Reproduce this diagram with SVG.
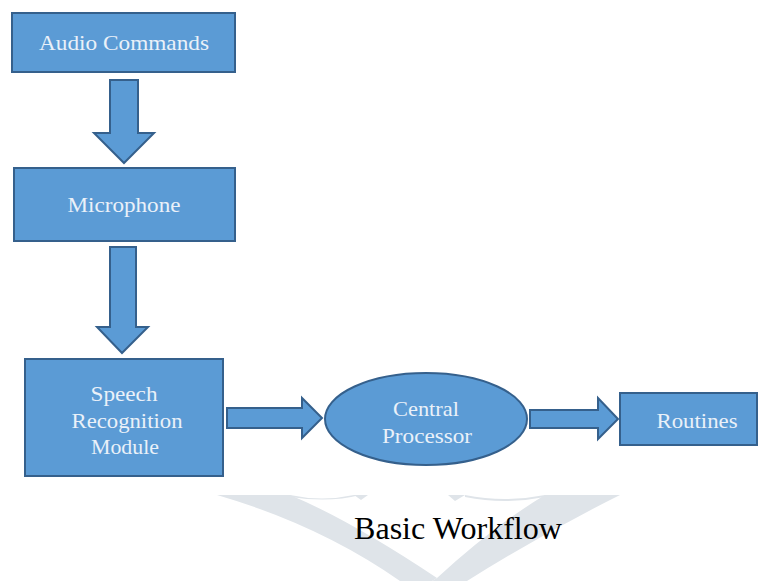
<svg xmlns="http://www.w3.org/2000/svg" width="763" height="581" viewBox="0 0 763 581">
<style>
.box{fill:#5b9bd5;stroke:#35608c;stroke-width:2}
.arr{fill:#5b9bd5;stroke:#35608c;stroke-width:2;stroke-linejoin:miter}
.lbl{font-family:"Liberation Serif","Times New Roman",serif;font-size:21px;fill:#eaf1f9;text-anchor:middle}
.cap{font-family:"Liberation Serif","Times New Roman",serif;font-size:31.5px;fill:#000}
.wm{fill:#dfe4e9}
</style>
<rect width="763" height="581" fill="#fff"/>
<g id="watermark">
<path class="wm" d="M217,495 L290,495 Q350,520 437,578 L432,581 L400,581 Q320,525 217,495 Z"/>
<path class="wm" d="M545,495 L620,495 Q540,535 467,581 L432,581 L437,578 Q495,525 545,495 Z"/>
<path class="wm" d="M290,495 Q322,502 354,495 L360,495 Q330,503 290,497 Z"/>
<path class="wm" d="M354,495 L368,495 L361,500 Z"/>
<path class="wm" d="M448,495 L465,495 L455,501 Z"/>
<path class="wm" d="M465,495 Q505,503 545,495 L545,497 Q505,505 465,497 Z"/>
</g>
<g id="connectors">
<path class="arr" d="M110,80 L138,80 L138,133 L154,133 L124,163 L94,133 L110,133 Z"/>
<path class="arr" d="M110,247 L136,247 L136,327 L148,327 L122,353 L97,327 L110,327 Z"/>
<path class="arr" d="M227,408 L302,408 L302,398 L322,418 L302,438 L302,428 L227,428 Z"/>
<path class="arr" d="M530,410 L598,410 L598,398 L618,419 L598,439 L598,428 L530,428 Z"/>
</g>
<g id="audio-commands">
<rect class="box" x="12" y="13" width="223" height="59"/>
<text class="lbl" x="124" y="50" textLength="170" lengthAdjust="spacingAndGlyphs">Audio Commands</text>
</g>
<g id="microphone">
<rect class="box" x="14" y="168" width="221" height="73"/>
<text class="lbl" x="124" y="212" textLength="113" lengthAdjust="spacingAndGlyphs">Microphone</text>
</g>
<g id="speech-recognition">
<rect class="box" x="25" y="359" width="198" height="117"/>
<text class="lbl" x="124" y="401" textLength="67" lengthAdjust="spacingAndGlyphs">Speech</text>
<text class="lbl" x="127" y="428" textLength="111" lengthAdjust="spacingAndGlyphs">Recognition</text>
<text class="lbl" x="125" y="454" textLength="68" lengthAdjust="spacingAndGlyphs">Module</text>
</g>
<g id="central-processor">
<ellipse class="box" cx="426" cy="419" rx="101" ry="46"/>
<text class="lbl" x="426" y="416" textLength="66" lengthAdjust="spacingAndGlyphs">Central</text>
<text class="lbl" x="427" y="443" textLength="90" lengthAdjust="spacingAndGlyphs">Processor</text>
</g>
<g id="routines">
<rect class="box" x="620" y="393" width="137" height="52"/>
<text class="lbl" x="697" y="428" textLength="81" lengthAdjust="spacingAndGlyphs">Routines</text>
</g>
<g id="caption">
<text class="cap" x="354" y="539" textLength="208" lengthAdjust="spacingAndGlyphs">Basic Workflow</text>
</g>
</svg>
